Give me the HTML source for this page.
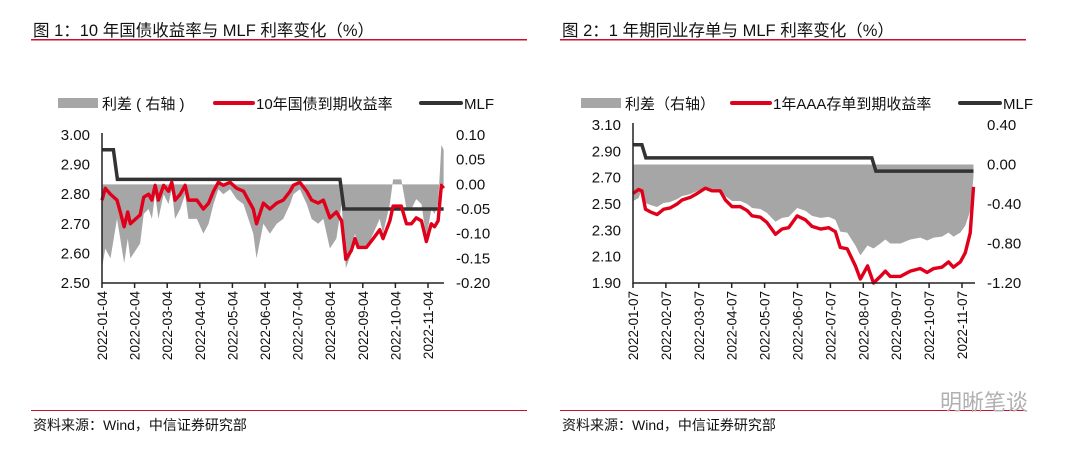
<!DOCTYPE html>
<html><head><meta charset="utf-8">
<style>
body{margin:0;background:#fff;width:1080px;height:450px;overflow:hidden;font-family:"Liberation Sans","Noto Sans CJK SC",sans-serif;}
svg{display:block}
text{font-family:"Liberation Sans","Noto Sans CJK SC",sans-serif;fill:#111}
</style></head>
<body>
<svg id="s" width="1080" height="450">
<text x="33" y="36" font-size="16.5">图 1：10 年国债收益率与 MLF 利率变化（%）</text>
<rect x="31" y="39" width="496" height="1.5" fill="#c8102e"/>
<text x="562" y="36" font-size="16.5">图 2：1 年期同业存单与 MLF 利率变化（%）</text>
<rect x="560" y="39" width="466" height="1.5" fill="#c8102e"/>
<rect x="31" y="410" width="496" height="1" fill="#c8102e"/>
<rect x="560" y="410" width="466" height="1" fill="#c8102e"/>
<text x="33" y="430" font-size="14">资料来源：Wind，中信证券研究部</text>
<text x="562" y="430" font-size="14">资料来源：Wind，中信证券研究部</text>
<text x="940" y="410" font-size="22" style="fill:#b0b0b0">明晰笔谈</text>
</svg>
<script>
// Chart 1 data (t = months since 2022-01-04)
const c1Ticks=['2022-01-04','2022-02-04','2022-03-04','2022-04-04','2022-05-04','2022-06-04','2022-07-04','2022-08-04','2022-09-04','2022-10-04','2022-11-04'];
const c1T=[0,.10,.26,.46,.56,.68,.79,.87,1.17,1.28,1.43,1.53,1.63,1.73,1.89,2.04,2.14,2.24,2.40,2.55,2.65,2.91,3.11,3.27,3.42,3.57,3.72,3.93,4.13,4.34,4.49,4.64,4.74,4.95,5.15,5.36,5.56,5.77,5.87,6.07,6.28,6.43,6.63,6.79,6.99,7.19,7.35,7.48,7.65,7.76,7.86,8.11,8.32,8.52,8.62,8.83,8.93,9.18,9.34,9.49,9.64,9.80,9.95,10.10,10.20,10.31,10.41,10.48];
const c1Yield=[2.78,2.82,2.80,2.78,2.74,2.69,2.74,2.70,2.73,2.79,2.80,2.78,2.83,2.78,2.83,2.81,2.84,2.78,2.80,2.83,2.78,2.78,2.75,2.77,2.81,2.84,2.83,2.84,2.82,2.81,2.78,2.75,2.70,2.77,2.75,2.77,2.78,2.81,2.83,2.84,2.81,2.78,2.77,2.78,2.72,2.74,2.71,2.58,2.61,2.65,2.62,2.62,2.65,2.68,2.65,2.71,2.76,2.76,2.70,2.70,2.72,2.71,2.64,2.70,2.69,2.71,2.83,2.82];
const c1MlfT=[0,0.35,7.3,10.48];
const c1Mlf=[2.95,2.85,2.75,2.75];
const c1LeftTicks=[2.50,2.60,2.70,2.80,2.90,3.00];
const c1RightTicks=[-0.20,-0.15,-0.10,-0.05,0.00,0.05,0.10];
// Chart 2 data (t = months since 2022-01-07)
const c2Ticks=['2022-01-07','2022-02-07','2022-03-07','2022-04-07','2022-05-07','2022-06-07','2022-07-07','2022-08-07','2022-09-07','2022-10-07','2022-11-07'];
const c2T=[0,0.17,0.27,0.38,0.53,0.73,0.93,1.13,1.34,1.49,1.74,1.95,2.20,2.40,2.65,2.81,3.01,3.26,3.47,3.62,3.87,4.07,4.33,4.53,4.73,4.99,5.24,5.44,5.70,5.95,6.15,6.30,6.51,6.76,6.91,7.13,7.31,7.52,7.67,7.82,8.13,8.43,8.73,8.94,9.14,9.39,9.59,9.74,9.95,10.10,10.25,10.35];
const c2Cd=[2.58,2.61,2.60,2.46,2.44,2.42,2.46,2.47,2.50,2.53,2.55,2.58,2.62,2.60,2.60,2.53,2.48,2.48,2.45,2.41,2.40,2.36,2.27,2.31,2.32,2.41,2.38,2.33,2.31,2.32,2.29,2.17,2.16,2.03,1.93,2.03,1.90,1.95,1.99,1.95,1.95,1.99,2.01,1.98,2.01,2.02,2.06,2.02,2.06,2.13,2.28,2.63];
const c2MlfT=[0,0.27,7.26,10.35];
const c2Mlf=[2.95,2.85,2.75,2.75];
const c2LeftTicks=[1.90,2.10,2.30,2.50,2.70,2.90,3.10];
const c2RightTicks=[-1.20,-0.80,-0.40,0.00,0.40];

const NS='http://www.w3.org/2000/svg';
const svg=document.getElementById('s');
function mk(tag,attrs,parent){const e=document.createElementNS(NS,tag);for(const k in attrs)e.setAttribute(k,attrs[k]);(parent||svg).appendChild(e);return e;}
function interp(ts,vs,t){let v=vs[0];for(let i=0;i<ts.length;i++){if(t>=ts[i])v=vs[i];}return v;}

function drawChart(cfg){
  const g=mk('g',{});
  
  
  const X=t=>cfg.x0+(t/10)*(cfg.tick10-cfg.x0);
  const YL=v=>cfg.yb+(v-cfg.lmin)/(cfg.lmax-cfg.lmin)*(cfg.yt-cfg.yb);
  const YR=v=>cfg.yb+(v-cfg.rmin)/(cfg.rmax-cfg.rmin)*(cfg.yt-cfg.yb);
  let top=[],bot=[];
  cfg.T.forEach((t,i)=>{const s=cfg.Y[i]-interp(cfg.MT,cfg.M,t);top.push(X(t)+','+YR(0));bot.push(X(t)+','+YR(s));});
  const area=mk('polygon',{points:top.join(' ')+' '+bot.reverse().join(' '),fill:'#a6a6a6'},g);
  
  
  let mp=[];
  for(let i=0;i<cfg.MT.length;i++){
    if(i>0)mp.push(X(cfg.MT[i])+','+YL(cfg.M[i-1]));
    if(i>0&&i<cfg.MT.length-1)mp.push((X(cfg.MT[i])+4)+','+YL(cfg.M[i]));
    else mp.push(X(cfg.MT[i])+','+YL(cfg.M[i]));
  }
  const ml=mk('polyline',{points:mp.join(' '),fill:'none',stroke:'#333',"stroke-width":3.5},g);
  
  
  const rp=cfg.T.map((t,i)=>X(t)+','+YL(cfg.Y[i])).join(' ');
  const rl=mk('polyline',{points:rp,fill:'none',stroke:'#e0001b',"stroke-width":3.4,"stroke-linejoin":"round"},g);
  
  
  const ax=mk('path',{d:`M${cfg.x0},${cfg.yt-2} V${cfg.yb} H${cfg.xe}`,stroke:'#222','stroke-width':1.5,fill:'none'},g);
  
  
  cfg.LT.forEach(v=>{const t=mk('text',{x:cfg.x0-12,y:YL(v)+5,'font-size':15,'text-anchor':'end'},g);t.textContent=v.toFixed(2);
    
    });
  cfg.RT.forEach(v=>{const t=mk('text',{x:cfg.xe+12,y:YR(v)+5,'font-size':15},g);t.textContent=v.toFixed(2);
    
    });
  cfg.XT.forEach((lab,i)=>{const x=X(i);
    mk('line',{x1:x,x2:x,y1:cfg.yb,y2:cfg.yb+5,stroke:'#222','stroke-width':1.5},g);
    const t=mk('text',{x:0,y:0,'font-size':13.5,'text-anchor':'end',transform:`translate(${x+5},${cfg.yb+8}) rotate(-90)`},g);t.textContent=lab;
    
    });
  const L=cfg.leg, ly=103;
  mk('rect',{x:L[0],y:ly-5,width:40,height:10,fill:'#a6a6a6'},g);
  let t=mk('text',{x:L[0]+44,y:ly+6,'font-size':15},g);t.textContent=cfg.l1;
  
  
  mk('line',{x1:L[1],x2:L[1]+38,y1:ly,y2:ly,stroke:'#e0001b','stroke-width':4,'stroke-linecap':'round'},g);
  t=mk('text',{x:L[1]+41,y:ly+6,'font-size':15},g);t.textContent=cfg.l2;
  
  
  mk('line',{x1:L[2],x2:L[2]+40,y1:ly,y2:ly,stroke:'#333','stroke-width':4,'stroke-linecap':'round'},g);
  t=mk('text',{x:L[2]+43,y:ly+6,'font-size':15},g);t.textContent='MLF';
  
  
}
drawChart({id:'chart1',x0:102,tick10:428,xe:444,yt:135,yb:283,lmin:2.5,lmax:3.0,rmin:-0.2,rmax:0.1,
  T:c1T,Y:c1Yield,MT:c1MlfT,M:c1Mlf,LT:c1LeftTicks,RT:c1RightTicks,XT:c1Ticks,leg:[58,215,421],l1:'利差 ( 右轴 )',l2:'10年国债到期收益率'});
drawChart({id:'chart2',x0:633,tick10:962,xe:975,yt:125,yb:283,lmin:1.9,lmax:3.1,rmin:-1.2,rmax:0.4,
  T:c2T,Y:c2Cd,MT:c2MlfT,M:c2Mlf,LT:c2LeftTicks,RT:c2RightTicks,XT:c2Ticks,leg:[581,732,960],l1:'利差（右轴）',l2:'1年AAA存单到期收益率'});
</script>
</body></html>
